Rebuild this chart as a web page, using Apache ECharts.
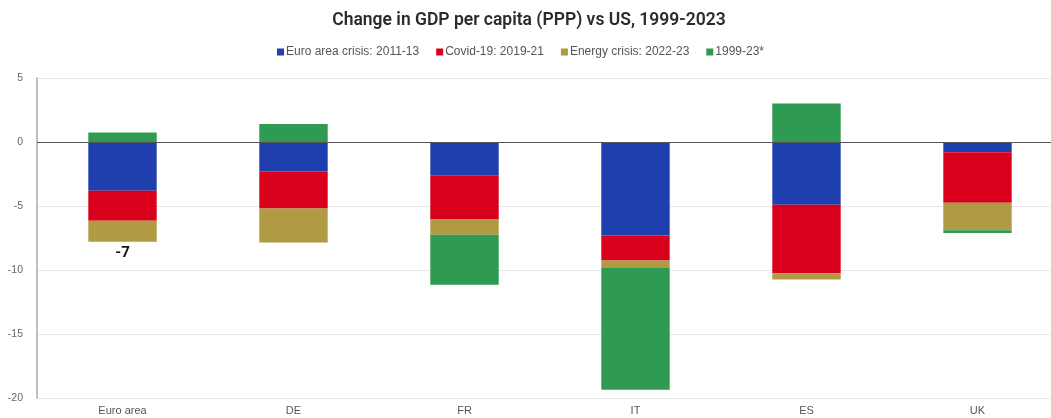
<!DOCTYPE html>
<html><head><meta charset="utf-8">
<script src="https://cdn.jsdelivr.net/npm/echarts@6/dist/echarts.min.js"></script>
<style>html,body{margin:0;padding:0;background:#fff;overflow:hidden}#c{width:1063px;height:418px}</style>
</head><body><div id="c"></div>
<script>
const categories = ['Euro area', 'DE', 'FR', 'IT', 'ES', 'UK'];
const seriesNames = ['Euro area crisis: 2011-13', 'Covid-19: 2019-21', 'Energy crisis: 2022-23', '1999-23*'];
const euroCrisis = [-3.8, -2.3, -2.6, -7.3, -4.9, -0.8];
const covid = [-2.35, -2.9, -3.45, -1.95, -5.35, -3.95];
const energy = [-1.65, -2.65, -1.2, -0.6, -0.5, -2.15];
const total9923 = [0.75, 1.4, -3.9, -9.5, 3.0, -0.2];
const yTicks = [5, 0, -5, -10, -15, -20];
const colors = ['#1f3fae', '#d9001b', '#b09b42', '#2f9a52'];

const euroTotal = Math.round(euroCrisis[0] + covid[0] + energy[0] + total9923[0]);

const chart = echarts.init(document.getElementById('c'));
const base = {type: 'bar', stack: 'all', barWidth: '40%'};
chart.setOption({
  animation: false,
  title: {text: 'Change in GDP per capita (PPP) vs US, 1999-2023', left: 524, textAlign: 'center', top: 7,
    textStyle: {fontFamily: 'Roboto', fontSize: 17.5, fontWeight: 600, color: '#2b2b2b'}},
  legend: {top: 41, left: 272, itemWidth: 7, itemHeight: 7, itemGap: 17, icon: 'rect',
    textStyle: {fontFamily: 'Liberation Sans', fontSize: 12, color: '#555', padding: [0,0,0,-3]},
    data: seriesNames},
  grid: {left: 37, right: 0, top: 78, bottom: 20, containLabel: false},
  xAxis: {type: 'category', data: categories,
    axisLine: {show: false}, axisTick: {show: false},
    axisLabel: {fontFamily: 'Liberation Sans', fontSize: 11, color: '#555', margin: 7}},
  yAxis: {type: 'value', min: -20, max: 5, interval: 5,
    axisLine: {show: true, lineStyle: {color: '#aaa', width: 1.5}},
    axisTick: {show: false},
    splitLine: {lineStyle: {color: '#e8e8e8'}},
    axisLabel: {fontFamily: 'Liberation Sans', fontSize: 10.5, color: '#666', margin: 14,
      formatter: v => yTicks.includes(v) ? String(v) : ''}},
  series: [
    Object.assign({}, base, {name: seriesNames[0], data: euroCrisis, itemStyle: {color: colors[0]},
      markLine: {silent: true, symbol: 'none', label: {show: false},
        lineStyle: {color: '#555', width: 1, type: 'solid'}, data: [{yAxis: 0}]}}),
    Object.assign({}, base, {name: seriesNames[1], data: covid, itemStyle: {color: colors[1]}}),
    Object.assign({}, base, {name: seriesNames[2], itemStyle: {color: colors[2]},
      data: energy.map((v, i) => i === 0 ? {value: v, label: {show: true, position: 'bottom', distance: 4,
        formatter: String(euroTotal), fontFamily: 'Roboto', fontSize: 15, fontWeight: 'bold', color: '#111'}} : v)}),
    Object.assign({}, base, {name: seriesNames[3], data: total9923, itemStyle: {color: colors[3]}})
  ]
});
</script></body></html>
